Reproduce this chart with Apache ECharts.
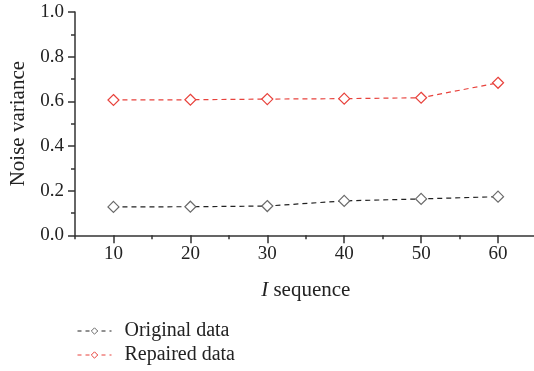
<!DOCTYPE html>
<html>
<head>
<meta charset="utf-8">
<script src="https://cdn.jsdelivr.net/npm/echarts@6/dist/echarts.min.js"></script>
<style>
  html, body { margin: 0; padding: 0; background: #fff; overflow: hidden; }
  #chart { width: 540px; height: 371px; }
</style>
</head>
<body>
<div id="chart"></div>
<script>
const xValues = [10, 20, 30, 40, 50, 60];
const originalData = [0.127, 0.128, 0.131, 0.154, 0.163, 0.173];
const repairedData = [0.606, 0.607, 0.610, 0.612, 0.616, 0.683];
const xTickLabels = [10, 20, 30, 40, 50, 60];

const font = "Liberation Serif";
const axisColor = "#333";
const greyMark = "#6a6a6a";
const red = "#e8423c";

const chart = echarts.init(document.getElementById("chart"));

const option = {
  animation: false,
  textStyle: { fontFamily: font },
  grid: { left: 75, top: 12, right: 3.5, bottom: 135.7 },
  xAxis: [
    {
      type: "value",
      min: 5,
      max: 65,
      splitLine: { show: false },
      axisLine: { show: true, lineStyle: { color: axisColor, width: 1.5 } },
      axisTick: { show: true, customValues: xTickLabels, length: 8, lineStyle: { color: axisColor, width: 1.5 } },
      axisLabel: { customValues: xTickLabels, color: "#222", fontSize: 19, fontFamily: font, margin: 9 },
      name: "{i|I} sequence",
      nameLocation: "middle",
      nameGap: 45,
      nameTextStyle: {
        color: "#222",
        fontSize: 21,
        fontFamily: font,
        rich: { i: { fontStyle: "italic", fontSize: 21, fontFamily: font, color: "#222" } }
      }
    },
    {
      // short ticks every 5
      type: "value",
      min: 5,
      max: 65,
      interval: 5,
      position: "bottom",
      splitLine: { show: false },
      axisLine: { show: false },
      axisTick: { show: true, length: 4, lineStyle: { color: axisColor, width: 1.5 } },
      axisLabel: { show: false }
    }
  ],
  yAxis: {
    type: "value",
    min: 0,
    max: 1,
    interval: 0.2,
    splitLine: { show: false },
    axisLine: { show: true, lineStyle: { color: axisColor, width: 1.5 } },
    axisTick: { show: true, length: 7, lineStyle: { color: axisColor, width: 1.5 } },
    minorTick: { show: true, splitNumber: 2, length: 4, lineStyle: { color: axisColor, width: 1.5 } },
    axisLabel: {
      color: "#222",
      fontSize: 19,
      fontFamily: font,
      margin: 11,
      formatter: (v) => v.toFixed(1)
    },
    name: "Noise variance",
    nameLocation: "middle",
    nameGap: 45,
    nameTextStyle: { color: "#222", fontSize: 21, fontFamily: font }
  },
  legend: {
    orient: "vertical",
    left: 72,
    top: 316,
    itemWidth: 34,
    itemHeight: 8,
    itemGap: 4,
    textStyle: { color: "#222", fontSize: 20, fontFamily: font, padding: [0, 0, 0, 8] },
    data: [
      {
        name: "Original data",
        itemStyle: { color: "#fff", borderColor: greyMark, borderWidth: 1 },
        lineStyle: { color: "#222", width: 1, type: [4, 4] }
      },
      {
        name: "Repaired data",
        itemStyle: { color: "#fff", borderColor: red, borderWidth: 1 },
        lineStyle: { color: red, width: 1, type: [4, 4] }
      }
    ]
  },
  series: [
    {
      name: "Original data",
      type: "line",
      data: xValues.map((x, i) => [x, originalData[i]]),
      symbol: "diamond",
      symbolSize: 11,
      lineStyle: { color: "#222", width: 1.2, type: [5, 4] },
      itemStyle: { color: "#fff", borderColor: greyMark, borderWidth: 1.2 }
    },
    {
      name: "Repaired data",
      type: "line",
      data: xValues.map((x, i) => [x, repairedData[i]]),
      symbol: "diamond",
      symbolSize: 11,
      lineStyle: { color: red, width: 1.2, type: [5, 4] },
      itemStyle: { color: "#fff", borderColor: red, borderWidth: 1.2 }
    }
  ]
};

chart.setOption(option);
</script>
</body>
</html>
